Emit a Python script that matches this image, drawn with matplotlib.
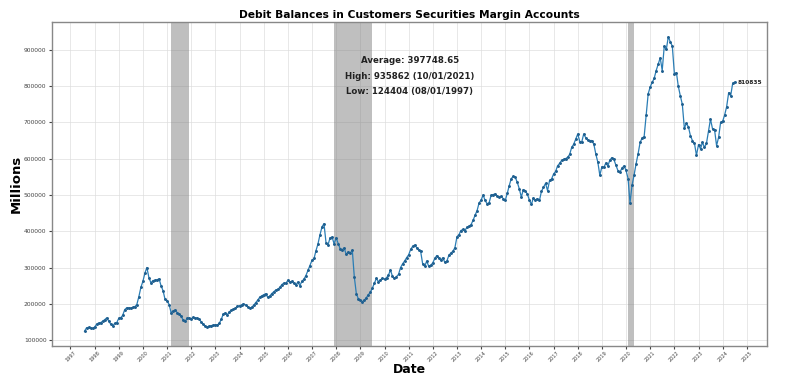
import matplotlib
matplotlib.use("Agg")
import matplotlib.pyplot as plt
import matplotlib.dates as mdates
import pandas as pd

start_month = "1997-08-01"
values = [
    # 1997 (Aug-Dec)
    124404, 134000, 135000, 132000, 132000,
    # 1998
    136000, 144000, 147000, 148000, 152000, 156000, 161000, 153000, 144000, 139000, 146000, 148000,
    # 1999
    160000, 162000, 168000, 184000, 189000, 189000, 188000, 190000, 192000, 198000, 220000, 245000,
    # 2000
    262000, 285000, 300000, 272000, 258000, 264000, 265000, 266000, 269000, 250000, 236000, 212000,
    # 2001
    209000, 198000, 176000, 180000, 183000, 176000, 172000, 166000, 155000, 152000, 160000, 161000,
    # 2002
    159000, 163000, 160000, 161000, 158000, 150000, 143000, 139000, 136000, 139000, 140000, 141000,
    # 2003
    142000, 142000, 146000, 158000, 172000, 175000, 170000, 178000, 183000, 185000, 188000, 193000,
    # 2004
    195000, 197000, 200000, 197000, 192000, 188000, 190000, 196000, 203000, 210000, 218000, 222000,
    # 2005
    225000, 228000, 218000, 221000, 228000, 233000, 238000, 240000, 245000, 253000, 257000, 256000,
    # 2006
    265000, 259000, 262000, 256000, 252000, 260000, 250000, 262000, 268000, 278000, 292000, 305000,
    # 2007
    320000, 325000, 346000, 365000, 390000, 412000, 421000, 368000, 363000, 382000, 384000, 365000,
    # 2008
    382000, 366000, 352000, 349000, 354000, 336000, 343000, 340000, 348000, 275000, 228000, 214000,
    # 2009
    211000, 206000, 210000, 217000, 225000, 232000, 243000, 257000, 270000, 261000, 266000, 270000,
    # 2010
    268000, 272000, 279000, 293000, 276000, 270000, 275000, 281000, 300000, 310000, 318000, 327000,
    # 2011
    335000, 350000, 358000, 362000, 355000, 348000, 345000, 310000, 303000, 318000, 303000, 306000,
    # 2012
    313000, 325000, 333000, 325000, 320000, 327000, 314000, 318000, 334000, 340000, 345000, 355000,
    # 2013
    385000, 391000, 402000, 405000, 402000, 411000, 414000, 418000, 430000, 444000, 457000, 478000,
    # 2014
    486000, 500000, 485000, 476000, 478000, 499000, 501000, 503000, 497000, 494000, 496000, 490000,
    # 2015
    485000, 505000, 525000, 545000, 551000, 549000, 535000, 517000, 494000, 515000, 512000, 502000,
    # 2016
    486000, 474000, 492000, 486000, 490000, 485000, 510000, 521000, 532000, 512000, 540000, 544000,
    # 2017
    558000, 565000, 580000, 587000, 595000, 598000, 600000, 604000, 612000, 631000, 640000, 654000,
    # 2018
    668000, 647000, 645000, 668000, 658000, 651000, 650000, 650000, 640000, 613000, 590000, 554000,
    # 2019
    578000, 576000, 588000, 580000, 596000, 603000, 598000, 582000, 567000, 563000, 574000, 580000,
    # 2020
    568000, 545000, 478000, 527000, 554000, 586000, 613000, 645000, 657000, 661000, 721000, 779000,
    # 2021
    798000, 811000, 821000, 843000, 860000, 878000, 843000, 910000, 901000, 935862, 922000, 910000,
    # 2022
    834000, 837000, 800000, 773000, 750000, 684000, 697000, 688000, 663000, 650000, 642000, 609000,
    # 2023
    639000, 627000, 645000, 631000, 642000, 677000, 709000, 682000, 679000, 636000, 659000, 700000,
    # 2024
    703000, 721000, 743000, 782000, 773000, 808000, 810835,
]

recession_starts = ["2001-03-01", "2007-12-01", "2020-02-01"]
recession_ends = ["2001-11-30", "2009-06-30", "2020-04-30"]

title = "Debit Balances in Customers Securities Margin Accounts"
average_text = "397748.65"
y_ticks = [100000, 200000, 300000, 400000, 500000, 600000, 700000, 800000, 900000]

dates = pd.date_range(start=start_month, periods=len(values), freq="MS")
s = pd.Series(values, index=dates)

fig = plt.figure(figsize=(8.0, 3.81), dpi=100)
ax = fig.add_axes([0.065, 0.092, 0.894, 0.850])

for a, b in zip(recession_starts, recession_ends):
    ax.axvspan(pd.Timestamp(a), pd.Timestamp(b), color="gray", alpha=0.5, lw=0, zorder=1)

ax.plot(s.index, s.values, color="#2a7db5", lw=0.9, marker="o", markersize=1.1,
        markerfacecolor="#1f5f8f", markeredgecolor="#1f5f8f", zorder=3)

hi_date = s.idxmax()
lo_date = s.idxmin()
info = (f"Average: {average_text}\n"
        f"High: {int(s.max())} ({hi_date.strftime('%m/%d/%Y')})\n"
        f"Low: {int(s.min())} ({lo_date.strftime('%m/%d/%Y')})")
ax.text(0.5, 0.895, info, transform=ax.transAxes, ha="center", va="top",
        fontsize=6.2, fontweight="bold", color="#222222", linespacing=1.95)

ax.annotate(f"{int(s.iloc[-1])}", xy=(s.index[-1], s.iloc[-1]), xytext=(2, 0),
            textcoords="offset points", fontsize=4.2, fontweight="bold",
            va="center", ha="left", color="#222222")

ax.set_title(title, fontsize=7.7, fontweight="bold", pad=3)
ax.set_xlabel("Date", fontsize=9, fontweight="bold", labelpad=0)
ax.set_ylabel("Millions", fontsize=9.5, fontweight="bold", labelpad=1)

ax.xaxis.set_major_locator(mdates.YearLocator())
ax.xaxis.set_major_formatter(mdates.DateFormatter("%Y"))
ax.set_yticks(y_ticks)
ax.set_yticklabels([str(v) for v in y_ticks])
ax.tick_params(axis="x", labelsize=3.6, rotation=45, length=2, pad=1, colors="#444444")
ax.tick_params(axis="y", labelsize=4.3, length=2, pad=2, colors="#444444")
for lab in ax.get_xticklabels():
    lab.set_ha("center")

ax.grid(True, color="#dddddd", lw=0.6, alpha=0.8)
ax.set_axisbelow(True)
for sp in ax.spines.values():
    sp.set_color("#888888")
    sp.set_linewidth(1.0)

fig.savefig("out.png", dpi=100)
